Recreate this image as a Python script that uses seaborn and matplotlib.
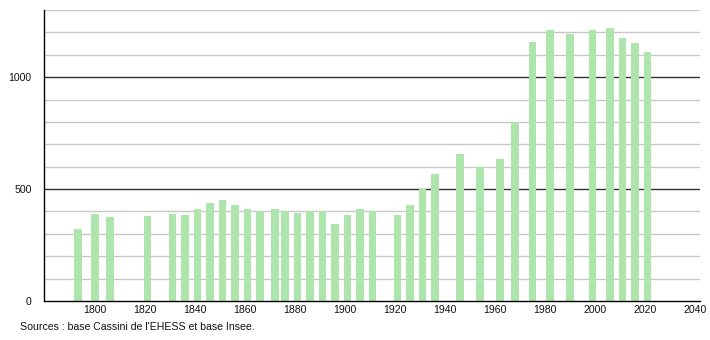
import matplotlib
matplotlib.use("Agg")
import matplotlib.pyplot as plt
import seaborn as sns
import pandas as pd

years = [1793, 1800, 1806, 1821, 1831, 1836, 1841, 1846, 1851, 1856, 1861, 1866,
         1872, 1876, 1881, 1886, 1891, 1896, 1901, 1906, 1911, 1921, 1926, 1931,
         1936, 1946, 1954, 1962, 1968, 1975, 1982, 1990, 1999, 2006, 2011, 2016, 2021]
population = [320, 390, 374, 378, 390, 382, 409, 439, 449, 431, 409, 400,
              413, 403, 392, 401, 401, 346, 382, 413, 402, 386, 431, 499,
              566, 655, 600, 633, 800, 1156, 1212, 1194, 1212, 1220, 1175, 1153, 1112]
x_ticks = [1800, 1820, 1840, 1860, 1880, 1900, 1920, 1940, 1960, 1980, 2000, 2020, 2040]
y_labels = [0, 500, 1000]
source_text = "Sources : base Cassini de l'EHESS et base Insee."

sns.set_style("white")
plt.rcParams['font.family'] = ['Liberation Sans', 'DejaVu Sans']

df = pd.DataFrame({"year": years, "pop": population})

fig = plt.figure(figsize=(7.1, 3.4), dpi=100)
ax = fig.add_axes([44/710, 1 - 301/340, 656/710, 291/340])

# gridlines
for v in range(100, 1301, 100):
    if v % 500 == 0:
        ax.axhline(v, color="#333333", lw=1.0, zorder=0)
    else:
        ax.axhline(v, color="#c8c8c8", lw=1.0, zorder=0)

sns.barplot(data=df, x="year", y="pop", native_scale=True, width=0.8,
            color="#ade5ad", saturation=1, ax=ax, zorder=2, edgecolor="none")

ax.set_xlim(1779.6, 2042)
ax.set_ylim(0, 1300)
ax.set_xlabel("")
ax.set_ylabel("")

ax.set_xticks(x_ticks)
ax.set_xticklabels([str(t) for t in x_ticks], fontsize=7.6, color="#111111")
ax.set_yticks(list(range(0, 1301, 100)))
ax.set_yticklabels([str(v) if v in y_labels else "" for v in range(0, 1301, 100)],
                   fontsize=7.6, color="#111111")
ax.tick_params(axis="x", length=0, pad=3)
ax.tick_params(axis="y", length=3, width=0.8, pad=6, color="#000000")

for s in ["top", "right"]:
    ax.spines[s].set_visible(False)
ax.spines["left"].set_color("black")
ax.spines["bottom"].set_color("black")
ax.spines["left"].set_linewidth(1.0)
ax.spines["bottom"].set_linewidth(1.0)

fig.text(20/710, 1 - 327/340, source_text, fontsize=7.6, ha="left", va="center",
         color="#111111")

fig.savefig("out.png", dpi=100)
